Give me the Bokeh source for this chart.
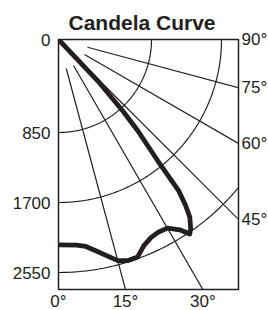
import numpy as np
from bokeh.plotting import figure
from bokeh.models import Range1d, LinearAxis, FixedTicker
from bokeh.embed import file_html
from bokeh.resources import INLINE

# ---- data ----
ANGLES = [0, 5, 7.5, 10, 15, 17.5, 20, 22.5, 25, 27.5, 30, 32.5, 34, 35,
          36.5, 37.5, 38.5, 39.3, 41, 42, 43.5]
CANDELA = [2214, 2226, 2255, 2325, 2500, 2535, 2530, 2430, 2375, 2355, 2365,
           2460, 2570, 2520, 2400, 2250, 2060, 1620, 1185, 888, 412]
RING_VALUES = [850, 1700, 2550]
RADIAL_TICKS = [0, 850, 1700, 2550]
RADIAL_LABELS = ["0", "850", "1700", "2550"]
SPOKE_ANGLES = [15, 30, 45, 60, 75]
RIGHT_ANGLES = [90, 75, 60, 45]
BOTTOM_ANGLES = [0, 15, 30]

INK = "#231f20"
FONT = "Liberation Sans"

# radial scale (frame pixels)
R0 = 23.0
K = 70.0 / 850.0
W, H = 180.0, 250.0


def rad(v):
    return R0 + K * np.asarray(v, dtype=float)


def polar(theta_deg, r):
    t = np.radians(np.asarray(theta_deg, dtype=float))
    return r * np.sin(t), -r * np.cos(t)


p = figure(frame_width=int(W), frame_height=int(H),
           x_range=Range1d(0, W), y_range=Range1d(-H, 0),
           output_backend="svg", toolbar_location=None,
           x_axis_location=None, y_axis_location=None,
           min_border_left=58, min_border_right=30,
           min_border_top=39, min_border_bottom=16)
p.grid.grid_line_color = None
p.background_fill_color = "white"
p.border_fill_color = "white"
p.outline_line_color = INK
p.outline_line_width = 1.5

# rings
for v in RING_VALUES:
    t = np.linspace(0, 90, 200)
    xs, ys = polar(t, rad(v))
    p.line(xs, ys, line_color=INK, line_width=1.2)

# spokes
for a in SPOKE_ANGLES:
    xs, ys = polar([a, a], np.array([30.0, 500.0]))
    p.line(xs, ys, line_color=INK, line_width=1.2)

# candela curve (ends at the pole)
cx, cy = polar(ANGLES, rad(CANDELA))
cx = list(cx) + [0.0]
cy = list(cy) + [0.0]
p.line(cx, cy, line_color=INK, line_width=4.8, line_join="round", line_cap="round")


def style_axis(ax, standoff):
    ax.axis_line_color = None
    ax.major_tick_line_color = None
    ax.minor_tick_line_color = None
    ax.major_tick_in = 0
    ax.major_tick_out = 0
    ax.major_label_standoff = standoff
    ax.major_label_text_font = FONT
    ax.major_label_text_font_size = "17px"
    ax.major_label_text_color = INK


# left: radial values along the 0 deg edge
lticks = [0.0] + [round(-float(rad(v)), 3) for v in RADIAL_TICKS[1:]]
left = LinearAxis(ticker=FixedTicker(ticks=lticks, minor_ticks=[]),
                  major_label_overrides={t: s for t, s in zip(lticks, RADIAL_LABELS)})
style_axis(left, 8)
p.add_layout(left, "left")

# right: angles where spokes meet the right edge
rticks = [round(-W / np.tan(np.radians(a)), 3) if a != 90 else 0.0 for a in RIGHT_ANGLES]
right = LinearAxis(ticker=FixedTicker(ticks=rticks, minor_ticks=[]),
                   major_label_overrides={t: f"{a}°" for t, a in zip(rticks, RIGHT_ANGLES)})
style_axis(right, 3)
p.add_layout(right, "right")

# bottom: angles where spokes meet the bottom edge
bticks = [round(H * np.tan(np.radians(a)), 3) for a in BOTTOM_ANGLES]
bottom = LinearAxis(ticker=FixedTicker(ticks=bticks, minor_ticks=[]),
                    major_label_overrides={t: f"{a}°" for t, a in zip(bticks, BOTTOM_ANGLES)})
style_axis(bottom, 2)
p.add_layout(bottom, "below")

p.title.text = "Candela Curve"
p.title.text_font = FONT
p.title.text_font_size = "21px"
p.title.text_font_style = "bold"
p.title.text_color = INK
p.title.align = "left"
p.title.offset = 10
p.title.standoff = 12

open("out.html", "w").write(file_html(p, INLINE))
